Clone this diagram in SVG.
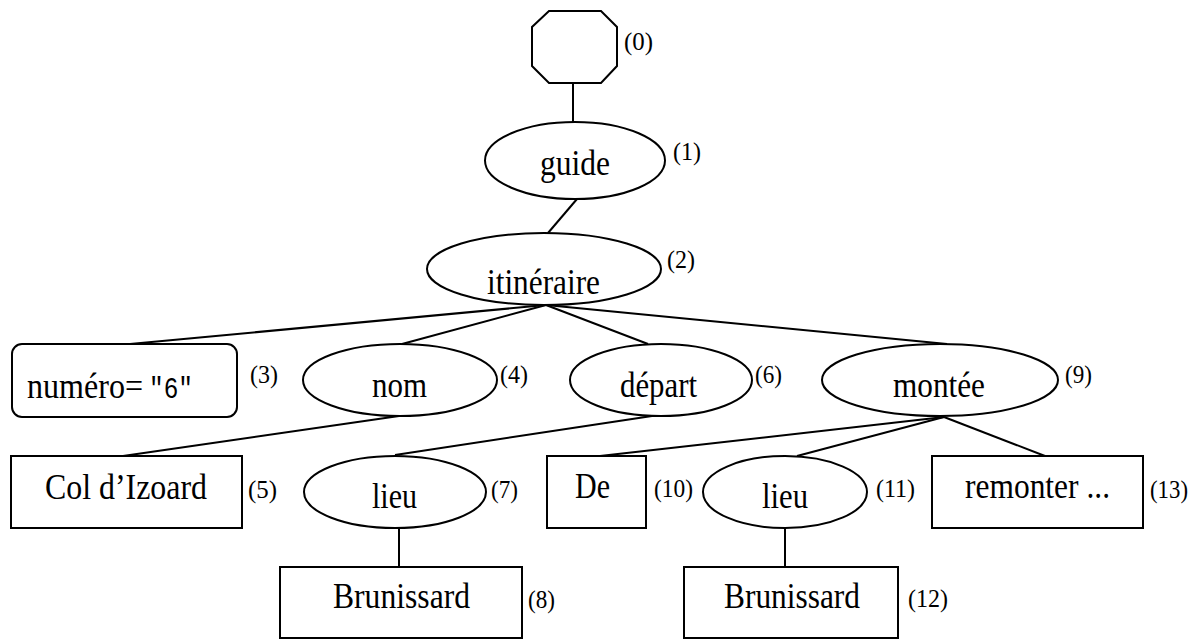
<svg xmlns="http://www.w3.org/2000/svg" width="1195" height="639" viewBox="0 0 1195 639">
<style>
.s{fill:#fff;stroke:#000;stroke-width:2}
.t{font-family:"Liberation Serif","Times New Roman",serif;font-size:35px;fill:#000}
.l{font-family:"Liberation Serif","Times New Roman",serif;font-size:25px;fill:#000}
.m{font-family:"Liberation Mono","Courier New",monospace;font-size:29px}
#edges line{stroke:#000;stroke-width:2}
</style>
<rect width="1195" height="639" fill="#fff"/>
<g id="edges">
<line x1="573" y1="83" x2="573" y2="122"/>
<line x1="577" y1="199" x2="548" y2="233"/>
<line x1="546" y1="305" x2="130" y2="344"/>
<line x1="546" y1="305" x2="402" y2="344"/>
<line x1="546" y1="305" x2="648" y2="344"/>
<line x1="546" y1="305" x2="947" y2="344"/>
<line x1="399" y1="416" x2="123" y2="456"/>
<line x1="652" y1="416" x2="395" y2="455"/>
<line x1="944" y1="417" x2="600" y2="456"/>
<line x1="944" y1="417" x2="797" y2="456"/>
<line x1="944" y1="417" x2="1045" y2="456"/>
<line x1="399" y1="528" x2="399" y2="567"/>
<line x1="785" y1="528" x2="785" y2="567"/>
</g>
<g id="n0">
<polygon class="s" points="549,11 601,11 617,27 617,66 601,83 549,83 532,66 532,27"/>
<text class="l" x="624" y="50" textLength="29" lengthAdjust="spacingAndGlyphs">(0)</text>
</g>
<g id="n1">
<ellipse class="s" cx="575" cy="160.5" rx="90" ry="38.5"/>
<text class="t" x="540" y="175" textLength="70" lengthAdjust="spacingAndGlyphs">guide</text>
<text class="l" x="673" y="160" textLength="28" lengthAdjust="spacingAndGlyphs">(1)</text>
</g>
<g id="n2">
<ellipse class="s" cx="544" cy="269" rx="117" ry="36"/>
<text class="t" x="487" y="294" textLength="113" lengthAdjust="spacingAndGlyphs">itinéraire</text>
<text class="l" x="667" y="268" textLength="28" lengthAdjust="spacingAndGlyphs">(2)</text>
</g>
<g id="n3">
<rect class="s" x="12" y="344" width="225" height="73" rx="10"/>
<text class="t" x="27" y="398" textLength="116" lengthAdjust="spacingAndGlyphs">numéro=</text>
<text class="t m" x="149" y="398" textLength="44" lengthAdjust="spacingAndGlyphs">"6"</text>
<text class="l" x="250" y="383" textLength="28" lengthAdjust="spacingAndGlyphs">(3)</text>
</g>
<g id="n4">
<ellipse class="s" cx="400" cy="380" rx="97" ry="36"/>
<text class="t" x="372" y="397" textLength="55" lengthAdjust="spacingAndGlyphs">nom</text>
<text class="l" x="500" y="383" textLength="28" lengthAdjust="spacingAndGlyphs">(4)</text>
</g>
<g id="n5">
<rect class="s" x="11" y="456" width="231" height="72"/>
<text class="t" x="45" y="499" textLength="162" lengthAdjust="spacingAndGlyphs">Col d’Izoard</text>
<text class="l" x="248" y="498" textLength="29" lengthAdjust="spacingAndGlyphs">(5)</text>
</g>
<g id="n6">
<ellipse class="s" cx="661" cy="380" rx="91" ry="36"/>
<text class="t" x="620" y="397" textLength="77" lengthAdjust="spacingAndGlyphs">départ</text>
<text class="l" x="755" y="383" textLength="27" lengthAdjust="spacingAndGlyphs">(6)</text>
</g>
<g id="n7">
<ellipse class="s" cx="395" cy="492" rx="91" ry="36"/>
<text class="t" x="372" y="508" textLength="45" lengthAdjust="spacingAndGlyphs">lieu</text>
<text class="l" x="491" y="498" textLength="27" lengthAdjust="spacingAndGlyphs">(7)</text>
</g>
<g id="n8">
<rect class="s" x="280" y="567" width="242" height="71"/>
<text class="t" x="333" y="608" textLength="137" lengthAdjust="spacingAndGlyphs">Brunissard</text>
<text class="l" x="528" y="608" textLength="27" lengthAdjust="spacingAndGlyphs">(8)</text>
</g>
<g id="n9">
<ellipse class="s" cx="940" cy="380" rx="118" ry="36"/>
<text class="t" x="893" y="397" textLength="92" lengthAdjust="spacingAndGlyphs">montée</text>
<text class="l" x="1065" y="383" textLength="27" lengthAdjust="spacingAndGlyphs">(9)</text>
</g>
<g id="n10">
<rect class="s" x="547" y="456" width="99" height="72"/>
<text class="t" x="575" y="498" textLength="35" lengthAdjust="spacingAndGlyphs">De</text>
<text class="l" x="654" y="497" textLength="39" lengthAdjust="spacingAndGlyphs">(10)</text>
</g>
<g id="n11">
<ellipse class="s" cx="785" cy="492" rx="82" ry="36"/>
<text class="t" x="762" y="508" textLength="46" lengthAdjust="spacingAndGlyphs">lieu</text>
<text class="l" x="876" y="497" textLength="39" lengthAdjust="spacingAndGlyphs">(11)</text>
</g>
<g id="n12">
<rect class="s" x="684" y="567" width="214" height="71"/>
<text class="t" x="724" y="608" textLength="136" lengthAdjust="spacingAndGlyphs">Brunissard</text>
<text class="l" x="908" y="607" textLength="40" lengthAdjust="spacingAndGlyphs">(12)</text>
</g>
<g id="n13">
<rect class="s" x="932" y="456" width="211" height="72"/>
<text class="t" x="965" y="498" textLength="145" lengthAdjust="spacingAndGlyphs">remonter ...</text>
<text class="l" x="1150" y="498" textLength="38" lengthAdjust="spacingAndGlyphs">(13)</text>
</g>
</svg>
